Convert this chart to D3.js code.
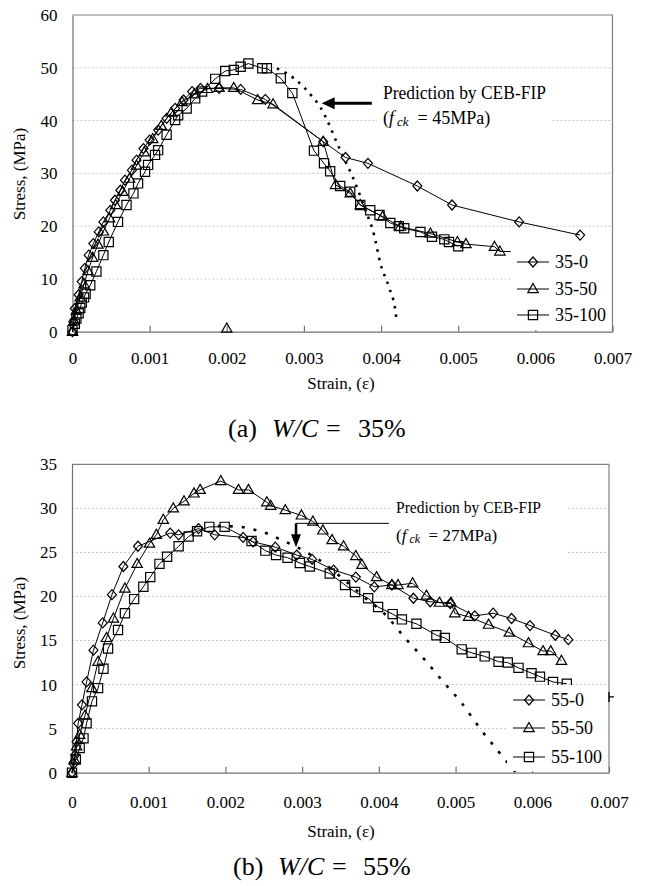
<!DOCTYPE html>
<html>
<head>
<meta charset="utf-8">
<script src="https://cdn.jsdelivr.net/npm/d3@7"></script>
<style>
  body { margin: 0; background: #fff; }
  text { font-family: "Liberation Serif", "Times New Roman", serif; fill: #000; }
</style>
</head>
<body>
<script>
// ---- data (strain, stress MPa) ----
var xTicks = [0, 0.001, 0.002, 0.003, 0.004, 0.005, 0.006, 0.007];
var yTicksA = [0, 10, 20, 30, 40, 50, 60];
var yTicksB = [0, 5, 10, 15, 20, 25, 30, 35];

var s35_0 = [[0,0],[0.00001,1.9],[0.00003,4.4],[0.00008,7.0],[0.00012,9.5],[0.00016,12.0],[0.00021,14.5],[0.00027,16.7],[0.00034,18.9],[0.0004,20.8],[0.00049,23.0],[0.00055,24.9],[0.00062,26.8],[0.00068,28.7],[0.00077,30.6],[0.00083,32.5],[0.00092,34.7],[0.001,36.3],[0.00111,38.2],[0.00122,40.4],[0.00133,42.3],[0.00144,43.9],[0.00155,45.5],[0.00166,46.1],[0.0019,46.1],[0.00218,45.9],[0.0025,44.0],[0.00325,36.0],[0.00354,33.0],[0.00383,31.9],[0.00447,27.6],[0.00492,24.0],[0.00579,20.8],[0.00658,18.3]];
var s35_50 = [[0,0],[0.00002,2],[0.00005,4],[0.0001,6.5],[0.00015,9],[0.0002,11.5],[0.00026,14],[0.00033,16.5],[0.0004,19],[0.00048,21.5],[0.00056,24],[0.00065,26.5],[0.00074,29],[0.00083,31.5],[0.00093,34],[0.00104,36.5],[0.00115,39],[0.00128,41.5],[0.00142,43.5],[0.00158,45],[0.00175,46],[0.0019,46.2],[0.00209,46.2],[0.0024,43.9],[0.0026,43.1],[0.00325,36.0],[0.00341,27.8],[0.0036,26.2],[0.00373,24.0],[0.00402,21.8],[0.00425,19.9],[0.00464,18.6],[0.00499,17.0],[0.0051,16.6],[0.00547,16.1],[0.00554,15.2]];
var s35_50end = [0.00568, 15.2];   // line runs on past last marker
var s35_50stray = [[0.002, 0.6]];    // lone triangle on the axis
var s35_100 = [[0,0.3],[0.00003,1.5],[0.00005,2.5],[0.00008,3.5],[0.0001,4.5],[0.00012,5.5],[0.00015,6.5],[0.00017,7.2],[0.00023,8.8],[0.00031,11.4],[0.0004,14.5],[0.00047,17.0],[0.00059,20.8],[0.0007,24.0],[0.00079,26.2],[0.00085,28.1],[0.00094,30.3],[0.00098,31.6],[0.00107,33.5],[0.00111,34.4],[0.00122,37.3],[0.00133,40.1],[0.00137,41.0],[0.00148,42.3],[0.00159,44.2],[0.00168,45.5],[0.00185,47.9],[0.00198,49.4],[0.00209,49.6],[0.00218,50.2],[0.00228,50.8],[0.00246,49.9],[0.00252,49.9],[0.0027,48.0],[0.00285,45.2],[0.00313,34.3],[0.00326,31.9],[0.00334,30.4],[0.00347,27.6],[0.0036,26.5],[0.00373,24.0],[0.00386,23.0],[0.00398,22.1],[0.00412,20.6],[0.00423,20.0],[0.0043,19.6],[0.00451,18.9],[0.00466,18.0],[0.00482,17.5],[0.00488,17.0],[0.005,16.2]];
var ceb35 = [[0.00265,49.9],[0.00272,49.4],[0.00287,48.0],[0.003,46.3],[0.00311,44.5],[0.00321,42.6],[0.0033,40.1],[0.00343,35.7],[0.00353,32.5],[0.00363,29.4],[0.00378,23.7],[0.00391,18.3],[0.00399,13.0],[0.0041,8.5],[0.00419,3.5],[0.0042,2.2]];

var s55_0 = [[0,0],[0.00002,1.0],[0.00004,2.0],[0.00006,3.5],[0.00008,5.6],[0.00013,7.7],[0.00019,10.3],[0.00028,13.9],[0.0004,17.0],[0.00052,20.2],[0.00067,23.4],[0.00086,25.7],[0.00128,27.2],[0.00139,27.0],[0.00165,27.7],[0.00186,27.0],[0.00223,26.7],[0.00236,26.2],[0.00265,25.6],[0.00293,24.7],[0.00313,24.2],[0.00341,23.0],[0.0037,22.2],[0.00394,21.1],[0.00417,21.3],[0.00445,19.8],[0.00467,19.4],[0.00493,19.2],[0.00525,17.8],[0.00549,18.1],[0.00573,17.5],[0.00597,16.7],[0.0063,15.6],[0.00647,15.1]];
var s55_50 = [[0,0],[0.00003,1.5],[0.00006,3.0],[0.0001,4.3],[0.00017,6.5],[0.00026,9.6],[0.00034,12.6],[0.00045,15.3],[0.00054,17.5],[0.00069,20.9],[0.00085,23.7],[0.00101,26.0],[0.0011,27.0],[0.00119,28.7],[0.00132,30.0],[0.00146,30.8],[0.00159,31.7],[0.00167,32.1],[0.00194,33.1],[0.00217,32.1],[0.0023,32.1],[0.00254,30.7],[0.00259,30.3],[0.00278,29.8],[0.00299,29.2],[0.00314,28.5],[0.00327,27.5],[0.00339,26.4],[0.00354,25.7],[0.0037,24.6],[0.00378,23.6],[0.00397,22.2],[0.00417,21.3],[0.00425,21.3],[0.00444,21.5],[0.00462,20.1],[0.00479,19.3],[0.00494,19.3],[0.00499,18.1],[0.00517,17.7],[0.00543,16.8],[0.0057,15.9],[0.00595,14.7],[0.00614,13.8],[0.00624,13.8],[0.00638,12.7]];
var s55_100 = [[0,0],[0.00005,1.5],[0.0001,2.8],[0.00015,3.9],[0.00019,5.6],[0.00026,8.1],[0.00034,9.6],[0.00041,11.8],[0.00047,14.1],[0.0006,16.2],[0.00069,18.1],[0.00081,19.7],[0.00093,21.1],[0.00102,22.2],[0.00114,23.7],[0.00124,24.5],[0.00139,25.7],[0.00152,26.8],[0.00163,27.4],[0.00179,27.9],[0.00199,27.9],[0.00234,26.3],[0.00252,25.2],[0.00266,24.7],[0.00281,24.4],[0.00297,23.8],[0.0031,23.4],[0.00336,22.6],[0.00356,21.3],[0.00369,20.5],[0.00386,19.8],[0.00399,18.8],[0.00418,18.0],[0.0043,17.4],[0.00449,16.9],[0.00475,15.6],[0.00486,15.3],[0.00508,14.0],[0.00521,13.6],[0.00538,13.2],[0.00556,12.6],[0.00568,12.5],[0.00582,11.9],[0.00599,11.3],[0.0061,10.9],[0.00627,10.3],[0.00645,10.1]];
var ceb55 = [[0.0019,28.0],[0.0022,27.9],[0.00241,27.5],[0.00256,27.1],[0.00273,26.4],[0.00291,25.7],[0.00308,24.9],[0.00323,24.1],[0.00352,22.1],[0.0038,20.0],[0.0041,17.8],[0.00434,15.3],[0.0046,12.8],[0.00484,10.3],[0.00508,7.9],[0.00532,5.0],[0.00556,2.4],[0.00578,0.1]];

var namesA = ["35-0", "35-50", "35-100"];
var namesB = ["55-0", "55-50", "55-100"];

var svg = d3.select("body").append("svg").attr("width", 646).attr("height", 886);

function markerPath(type) {
  if (type == "diamond") return "M0,-5L4.5,0L0,5L-4.5,0Z";
  if (type == "triangle") return "M0,-5.5L5.2,3.6L-5.2,3.6Z";
  return "M-4.6,-4.6H4.6V4.6H-4.6Z";
}
var types = ["diamond", "triangle", "square"];

function drawPanel(p) {
  var x = d3.scaleLinear().domain([0, 0.007]).range([p.left, p.right]);
  var y = d3.scaleLinear().domain([0, p.yMax]).range([p.bottom, p.top]);
  var g = svg.append("g");

  // grid
  g.selectAll(".grid").data(p.yTicks.filter(d => d > 0 && d < p.yMax)).enter()
    .append("line")
    .attr("x1", p.left).attr("x2", p.right)
    .attr("y1", d => y(d)).attr("y2", d => y(d))
    .attr("stroke", "#b8b8b8").attr("stroke-width", 0.8).attr("stroke-dasharray", "2,2");

  // frame top/right
  g.append("path")
    .attr("d", "M" + p.left + "," + p.top + "H" + p.right + "V" + p.bottom)
    .attr("fill", "none").attr("stroke", "#808080").attr("stroke-width", 1.2);

  var xa = g.append("g").attr("transform", "translate(0," + p.bottom + ")")
    .call(d3.axisBottom(x).tickValues(xTicks).tickSize(-6).tickSizeOuter(0).tickPadding(p.xPad)
      .tickFormat(d => d === 0 ? "0" : d3.format(".3f")(d)));
  xa.selectAll("line,path").attr("stroke", "#707070").attr("stroke-width", 1.2);
  xa.selectAll("text").attr("font-size", "17px").attr("font-family", "Liberation Serif");
  var ya = g.append("g").attr("transform", "translate(" + p.left + ",0)")
    .call(d3.axisLeft(y).tickValues(p.yTicks).tickSize(0).tickPadding(15));
  ya.selectAll("path").attr("stroke", "#707070").attr("stroke-width", 1.2);
  ya.selectAll("text").attr("font-size", "17px").attr("font-family", "Liberation Serif");

  var line = d3.line().x(d => x(d[0])).y(d => y(d[1]));

  p.series.forEach(function (s, i) {
    var pts = s.end ? s.data.concat([s.end]) : s.data;
    g.append("path").attr("d", line(pts)).attr("fill", "none")
      .attr("stroke", "#000").attr("stroke-width", 1);
    g.selectAll(".m" + i).data(s.data.concat(s.stray || [])).enter()
      .append("path")
      .attr("transform", d => "translate(" + x(d[0]) + "," + y(d[1]) + ")")
      .attr("d", markerPath(types[i]))
      .attr("fill", "none").attr("stroke", "#000").attr("stroke-width", 1.2);
  });

  // CEB-FIP prediction
  g.append("path").attr("d", line.curve(d3.curveMonotoneX)(p.ceb))
    .attr("fill", "none").attr("stroke", "#000").attr("stroke-width", 2.6)
    .attr("stroke-dasharray", p.cebDash);

  // annotation
  var a = p.annot;
  g.append("rect").attr("x", a.boxX).attr("y", a.boxY).attr("width", a.boxW).attr("height", a.boxH).attr("fill", "#fff");
  g.append("text").attr("x", a.textX).attr("y", a.textY).attr("font-size", a.size + "px")
    .attr("textLength", a.w1).attr("lengthAdjust", "spacingAndGlyphs").text("Prediction by CEB-FIP");
  var t2 = g.append("text").attr("x", a.textX).attr("y", a.textY + a.lineGap).attr("font-size", a.size + "px");
  t2.append("tspan").text("(");
  t2.append("tspan").attr("font-style", "italic").text("f");
  t2.append("tspan").attr("font-style", "italic").attr("font-size", (a.size - 5) + "px").attr("dx", 3).attr("dy", 2).text("ck");
  t2.append("tspan").attr("dy", -2).text("\u00a0 = " + a.fck + "MPa)");
  a.arrow(g, x, y);

  // legend
  g.append("rect").attr("x", p.leg.x).attr("y", p.leg.y).attr("width", p.leg.w).attr("height", p.leg.h).attr("fill", "#fff");
  p.names.forEach(function (n, i) {
    var cy = p.leg.rows[i];
    g.append("line").attr("x1", p.leg.lx).attr("x2", p.leg.lx + 32).attr("y1", cy).attr("y2", cy).attr("stroke", "#000");
    g.append("path").attr("transform", "translate(" + (p.leg.lx + 16) + "," + cy + ")")
      .attr("d", markerPath(types[i])).attr("fill", "none").attr("stroke", "#000").attr("stroke-width", 1.2);
    g.append("text").attr("x", p.leg.lx + 38).attr("y", cy).attr("dy", "0.35em").attr("font-size", "18px").text(n);
  });

  // axis titles
  g.append("text").attr("transform", "translate(" + 25 + "," + p.yTitleY + ") rotate(-90)")
    .attr("text-anchor", "middle").attr("font-size", "17px").text("Stress, (MPa)");
  g.append("text").attr("x", 341).attr("y", p.xTitleY).attr("text-anchor", "middle").attr("font-size", "17px").text("Strain, (\u03b5)");

  // caption
  var c = p.cap;
  g.append("text").attr("x", c.x0).attr("y", c.y).attr("font-size", "26px").text(c.lab);
  g.append("text").attr("x", c.x1).attr("y", c.y).attr("font-size", "26px").attr("font-style", "italic").text("W/C");
  g.append("text").attr("x", c.x2).attr("y", c.y).attr("font-size", "26px").text("=");
  g.append("text").attr("x", c.x3).attr("y", c.y).attr("font-size", "26px").text(c.val);
  return { x: x, y: y, g: g };
}

function arrowHead(g, tx, ty, dir) {
  // dir: "left" or "down"
  var d = dir == "left"
    ? "M" + tx + "," + ty + "l13,-6v12z"
    : "M" + tx + "," + ty + "l-5,-13h10z";
  g.append("path").attr("d", d).attr("fill", "#000");
}

drawPanel({
  left: 72.5, right: 612.5, top: 15, bottom: 331.7, yMax: 60, yTicks: yTicksA, xPad: 20,
  series: [{ data: s35_0 }, { data: s35_50, end: s35_50end, stray: s35_50stray }, { data: s35_100 }],
  ceb: ceb35, cebDash: "2.5,6",
  names: namesA,
  annot: {
    boxX: 377, boxY: 80, boxW: 175, boxH: 50, textX: 383, textY: 99, lineGap: 25, size: 18, w1: 163, fck: 45,
    arrow: function (g, x, y) {
      var yy = y(43.3);
      g.append("line").attr("x1", x(0.00388)).attr("x2", x(0.00323) + 10).attr("y1", yy).attr("y2", yy)
        .attr("stroke", "#000").attr("stroke-width", 3);
      arrowHead(g, x(0.00323), yy, "left");
    }
  },
  leg: { x: 511, y: 252, w: 100, h: 78, lx: 517, rows: [262, 289, 315] },
  yTitleY: 174, xTitleY: 389,
  cap: { y: 437, lab: "(a)", x0: 228, x1: 272, x2: 326, x3: 358, val: "35%" }
});

drawPanel({
  left: 72, right: 609, top: 464.3, bottom: 772.7, yMax: 35, yTicks: yTicksB, xPad: 23,
  series: [{ data: s55_0 }, { data: s55_50 }, { data: s55_100 }],
  ceb: ceb55, cebDash: "3,9",
  names: namesB,
  annot: {
    boxX: 390, boxY: 495, boxW: 177, boxH: 58, textX: 396, textY: 513, lineGap: 28, size: 17, w1: 145, fck: 27,
    arrow: function (g, x, y) {
      var yy = y(28.3);
      g.append("line").attr("x1", x(0.00413)).attr("x2", x(0.00292)).attr("y1", yy).attr("y2", yy)
        .attr("stroke", "#000").attr("stroke-width", 1);
      g.append("line").attr("x1", x(0.00292)).attr("x2", x(0.00292)).attr("y1", yy).attr("y2", y(25.6) - 10)
        .attr("stroke", "#000").attr("stroke-width", 2.5);
      arrowHead(g, x(0.00292), y(25.6), "down");
      // small stray mark on the right border
      g.append("path").attr("d", "M" + x(0.007) + "," + (y(8.6) - 5) + "v10m0,-5h5")
        .attr("stroke", "#000").attr("stroke-width", 1.4).attr("fill", "none");
    }
  },
  leg: { x: 507, y: 685, w: 100, h: 86, lx: 513, rows: [700, 728, 757] },
  yTitleY: 623, xTitleY: 837,
  cap: { y: 875, lab: "(b)", x0: 233, x1: 278, x2: 332, x3: 363, val: "55%" }
});
</script>
</body>
</html>
